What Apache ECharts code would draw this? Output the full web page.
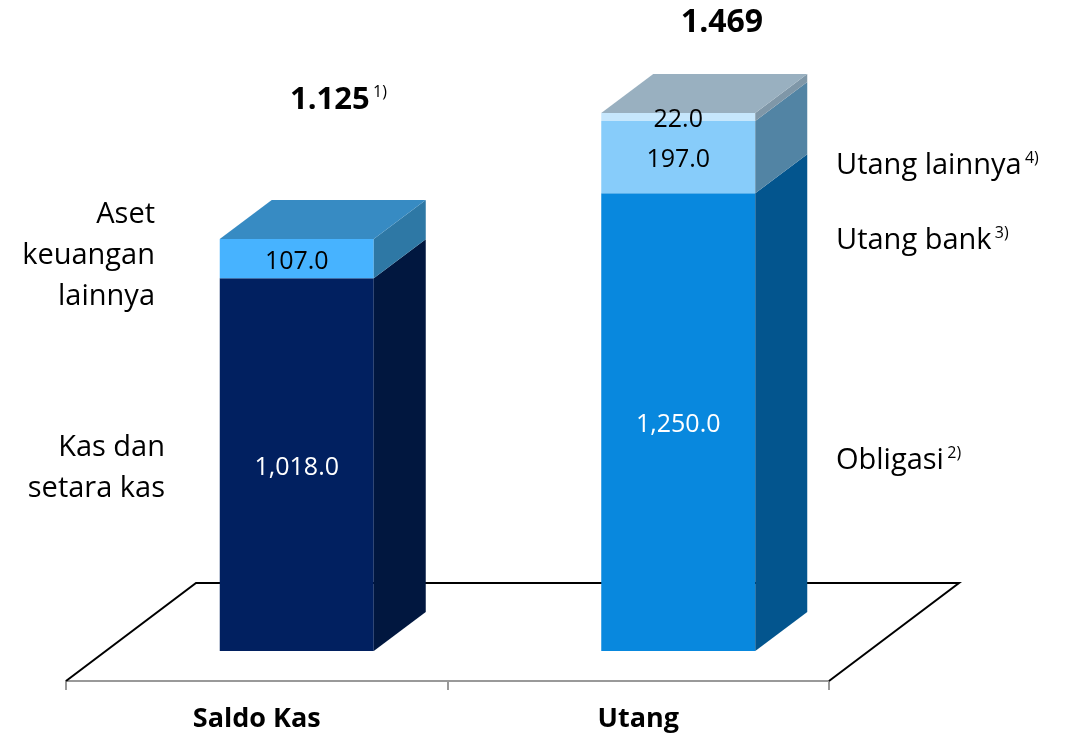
<!DOCTYPE html>
<html>
<head>
<meta charset="utf-8">
<script src="https://cdn.jsdelivr.net/npm/echarts@6/dist/echarts.min.js"></script>
<style>
  html, body { margin: 0; padding: 0; background: #fff; }
  #main { width: 1066px; height: 741px; }
</style>
</head>
<body>
<div id="main"></div>
<script>
// data
const categories = ['Saldo Kas', 'Utang'];
const kasSetaraKas = [1018.0, null];
const asetKeuanganLainnya = [107.0, null];
const obligasi = [null, 1250.0];
const utangBank = [null, 197.0];
const utangLainnya = [null, 22.0];

// bottom to top
const layers = [
    { name: 'Kas dan setara kas', values: kasSetaraKas, front: '#012060', side: '#01173F', top: '#1B3A72', text: '#fff' },
    { name: 'Aset keuangan lainnya', values: asetKeuanganLainnya, front: '#47B3FF', side: '#2E78A5', top: '#378BC3', text: '#000' },
    { name: 'Obligasi', values: obligasi, front: '#0888DE', side: '#03558E', top: '#2E7FB8', text: '#fff' },
    { name: 'Utang bank', values: utangBank, front: '#87CCFA', side: '#5284A4', top: '#7FA6BF', text: '#000' },
    { name: 'Utang lainnya', values: utangLainnya, front: '#C6E7FD', side: '#7F97A8', top: '#99B0C0', text: '#000' }
];

const SHIFT = [40, -30];   // bar placed inside the floor
const DEPTH = [52, -39];   // 3d depth of a bar
const BAR_W = 154;
const FLOOR = [130, -98];
const FONT = '"Open Sans", Lato, sans-serif';

const totals = categories.map((c, i) => layers.reduce((s, l) => s + (l.values[i] || 0), 0));

function fmtIn(v) {
    return v.toLocaleString('en-US', { minimumFractionDigits: 1, maximumFractionDigits: 1 });
}
function fmtTotal(v) {
    return v.toLocaleString('de-DE');
}

// stacked data: [catIndex, base, top, isTopMost, value]
const base = categories.map(() => 0);
const lastLayer = categories.map((c, i) => {
    let k = -1;
    layers.forEach((l, j) => { if (l.values[i] != null) k = j; });
    return k;
});
const blockSeries = layers.map((l, j) => {
    const data = [];
    l.values.forEach((v, i) => {
        if (v == null) return;
        data.push([i, base[i], base[i] + v, lastLayer[i] === j ? 1 : 0, v]);
        base[i] += v;
    });
    return {
        name: l.name,
        type: 'custom',
        z: 5,
        data: data,
        renderItem: function (params, api) {
            const p0 = api.coord([api.value(0), api.value(1)]);
            const p1 = api.coord([api.value(0), api.value(2)]);
            const cx = p0[0] + SHIFT[0];
            const x0 = cx - BAR_W / 2, x1 = cx + BAR_W / 2;
            const yb = p0[1] + SHIFT[1], yt = p1[1] + SHIFT[1];
            const children = [
                {
                    type: 'rect',
                    shape: { x: x0, y: yt, width: BAR_W, height: yb - yt },
                    style: { fill: l.front }
                },
                {
                    type: 'polygon',
                    shape: { points: [[x1, yb], [x1 + DEPTH[0], yb + DEPTH[1]], [x1 + DEPTH[0], yt + DEPTH[1]], [x1, yt]] },
                    style: { fill: l.side }
                }
            ];
            if (api.value(3)) {
                children.push({
                    type: 'polygon',
                    shape: { points: [[x0, yt], [x1, yt], [x1 + DEPTH[0], yt + DEPTH[1]], [x0 + DEPTH[0], yt + DEPTH[1]]] },
                    style: { fill: l.top }
                });
            }
            children.push({
                type: 'text',
                style: {
                    text: fmtIn(api.value(4)),
                    x: cx, y: (yb + yt) / 2 + 3,
                    align: 'center', verticalAlign: 'middle',
                    fill: l.text, font: '25px ' + FONT
                }
            });
            return { type: 'group', children: children };
        }
    };
});

const floorSeries = {
    type: 'custom',
    silent: true,
    z: 1,
    data: [[0, 0]],
    renderItem: function (params, api) {
        const cs = params.coordSys;
        const yb = cs.y + cs.height;
        const xl = cs.x, xr = cs.x + cs.width;
        return {
            type: 'polyline',
            shape: { points: [[xl, yb], [xl + FLOOR[0], yb + FLOOR[1]], [xr + FLOOR[0], yb + FLOOR[1]], [xr, yb]] },
            style: { stroke: '#000', lineWidth: 2, fill: null }
        };
    }
};

function note(x, y, text, align) {
    return {
        type: 'text',
        x: x, y: y,
        style: {
            text: text,
            align: align,
            verticalAlign: 'middle',
            rich: {
                a: { fontSize: 29, fontFamily: FONT, fill: '#000', lineHeight: 41, align: align },
                s: { fontSize: 16, fontFamily: FONT, fill: '#000', padding: [0, 0, 15, 0] }
            }
        }
    };
}

const chart = echarts.init(document.getElementById('main'));
chart.setOption({
    backgroundColor: '#fff',
    animation: false,
    grid: { left: 66, right: 237, top: 95, bottom: 60 },
    xAxis: {
        type: 'category',
        data: categories,
        axisLine: { show: true, onZero: false, lineStyle: { color: '#999', width: 2 } },
        axisTick: { show: true, length: 9, lineStyle: { color: '#999', width: 2 } },
        axisLabel: { color: '#000', fontWeight: 'bold', fontSize: 27, fontFamily: FONT, margin: 25 }
    },
    yAxis: { type: 'value', min: 0, max: 1600, show: false },
    graphic: [
        note(155, 256, '{a|Aset}\n{a|keuangan}\n{a|lainnya}', 'right'),
        note(165, 468, '{a|Kas dan}\n{a|setara kas}', 'right'),
        note(836, 166, '{a|Utang lainnya} {s|4)}', 'left'),
        note(836, 241, '{a|Utang bank} {s|3)}', 'left'),
        note(836, 461, '{a|Obligasi} {s|2)}', 'left'),
        {
            type: 'text', x: 290, y: 100,
            style: {
                text: '{b|' + fmtTotal(totals[0]) + '} {s|1)}',
                verticalAlign: 'middle',
                rich: {
                    b: { fontSize: 31, fontWeight: 'bold', fontFamily: FONT, fill: '#000' },
                    s: { fontSize: 16, fontFamily: FONT, fill: '#000', padding: [0, 0, 16, 0] }
                }
            }
        },
        {
            type: 'text', x: 722, y: 23,
            style: {
                text: fmtTotal(totals[1]),
                align: 'center', verticalAlign: 'middle',
                font: 'bold 32px ' + FONT, fill: '#000'
            }
        }
    ],
    series: [floorSeries].concat(blockSeries)
});
</script>
</body>
</html>
